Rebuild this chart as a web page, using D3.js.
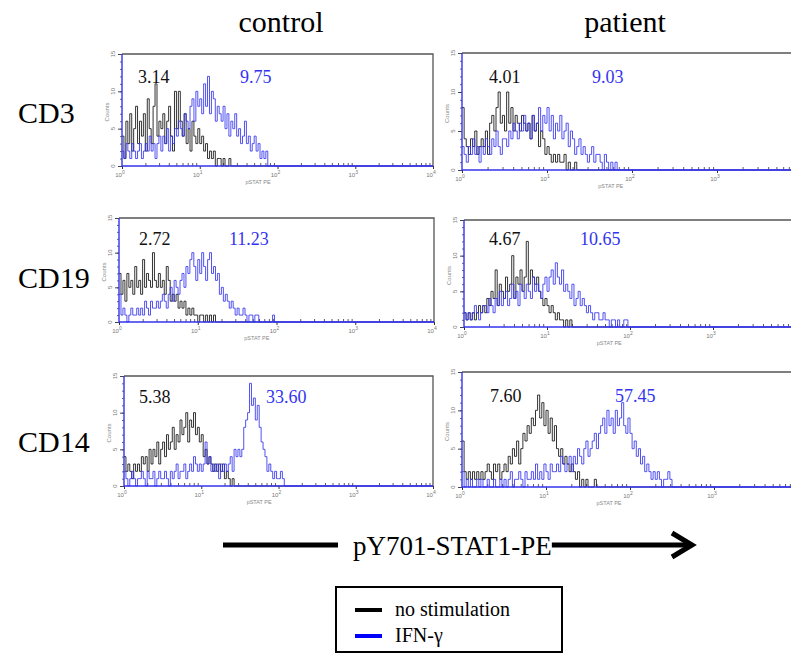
<!DOCTYPE html>
<html><head><meta charset="utf-8">
<script src="https://cdn.jsdelivr.net/npm/d3@7"></script>
<style>body{margin:0;background:#fff}svg{display:block}</style>
</head><body>
<svg id="c" width="791" height="654"></svg>
<script>
// ---- data (counts per channel, 40 channels per decade, starting at 10^0) ----
const columns = ["control", "patient"];
const rows = ["CD3", "CD19", "CD14"];
const seriesNames = ["no stimulation", "IFN-γ"];
const binsPerDecade = 40;

const cd3CtrlNo = [4,1,6,3,7,2,5,8,3,6, 4,7,2,9,5,3,8,11,4,6, 5,7,3,6,8,4,2,10,5,10, 6,4,7,3,5,2,6,4,3,5, 3,4,2,3,1,2,1,2,0,1, 1,0,1,0,0,1,0,0,0,0];
const cd3CtrlIfn = [2,1,3,2,1,3,2,1,2,3, 1,2,3,2,4,2,3,1,3,4, 2,4,3,5,2,4,3,5,4,6, 5,4,7,6,5,8,9,6,10,8, 9,7,11,8,12,7,10,9,6,8, 7,6,8,5,7,4,6,5,7,4, 5,3,4,6,3,4,2,3,4,2, 3,1,2,1,2,0];
const cd3PatNo = [8,4,3,2,4,3,5,2,3,4, 3,5,2,6,7,5,8,10,6,7, 5,10,6,8,5,7,6,5,7,6, 5,6,4,7,5,6,3,5,4,2, 3,2,1,2,1,2,1,1,2,0, 1,0,0,1,0,0,0,0,0,0];
const cd3PatIfn = [3,2,1,3,2,4,2,3,1,3, 2,4,3,2,4,3,5,3,2,4, 4,3,5,4,6,5,4,6,5,7, 5,6,4,7,5,6,8,5,7,6, 8,5,7,4,6,5,7,4,5,6, 3,5,4,2,3,4,2,3,2,1, 2,3,1,2,2,1,0,2,1,0, 1,0,1,0,0,0];
const cd19CtrlNo = [7,4,6,3,7,5,6,4,8,5, 6,4,9,5,7,6,5,10,6,5, 7,5,6,4,8,6,3,4,3,4, 2,3,2,3,1,2,1,2,1,1, 0,1,1,0,1,0,1,0,1,0, 0];
const cd19CtrlIfn = [4,1,2,1,0,1,2,1,1,2, 1,2,1,3,2,1,3,2,2,3, 2,3,4,3,2,4,5,3,6,5, 4,6,7,5,8,7,9,10,8,6, 9,7,10,8,6,9,10,7,8,6, 7,4,5,3,4,3,2,3,2,1, 2,1,1,2,1,0,1,1,0,1, 1,0,0,0,0,0,0,0,1,0];
const cd19PatNo = [2,1,2,1,2,1,2,3,2,3, 2,4,3,5,4,8,3,6,5,4, 7,5,6,10,4,7,6,8,5,7, 12,6,8,7,6,7,5,4,3,4, 3,2,3,2,1,2,1,1,0,1, 0,1,0,0,0,0];
const cd19PatIfn = [2,1,2,1,2,3,2,1,2,3, 3,2,4,3,2,4,3,5,3,4, 5,3,4,6,4,5,3,6,5,4, 6,5,4,7,5,6,5,4,6,7, 5,7,8,6,9,7,6,8,5,6, 5,4,6,3,4,5,3,4,3,2, 3,2,1,2,2,1,1,2,1,1, 0,1,1,0,1,0,0,1,1,0];
const cd14CtrlNo = [4,2,3,2,1,3,2,3,2,4, 3,4,2,5,3,5,4,6,3,5, 6,4,7,5,6,8,5,7,6,9, 7,8,10,6,9,8,10,7,8,6, 7,4,5,3,4,3,2,3,2,3, 2,3,1,2,1,0,1,0,0,0];
const cd14CtrlIfn = [2,1,0,1,2,1,0,1,1,2, 1,0,2,1,1,2,0,1,2,1, 1,2,1,0,2,1,2,3,1,2, 2,3,1,2,3,2,4,3,2,3, 2,3,6,3,4,2,3,2,3,1, 3,2,3,2,3,4,2,5,4,5, 4,5,8,9,10,14,11,12,9,11, 8,6,5,4,2,3,2,1,2,1, 1,2,1,0,0,0];
const cd14PatNo = [6,2,1,2,1,2,1,2,1,2, 1,2,3,2,1,3,2,3,1,2, 3,2,4,3,5,4,6,3,5,7, 6,8,7,9,8,10,12,9,11,8, 10,7,9,6,8,5,4,5,3,4, 3,2,3,2,1,2,0,1,0,1, 0,0,0,1,0,0];
const cd14PatIfn = [2,0,1,0,1,0,0,1,0,1, 0,0,1,0,0,1,0,0,1,0, 1,0,1,2,0,1,1,2,1,0, 2,1,1,2,1,3,1,2,1,3, 2,1,3,2,2,3,2,4,3,2, 3,4,2,4,3,5,4,3,5,6, 4,5,6,7,5,7,8,9,7,10, 8,9,7,10,8,9,11,8,7,9, 7,5,6,4,5,3,4,2,3,2, 1,2,1,2,1,0,1,1,2,1, 0];

const mfiNo  = ["3.14", "4.01", "2.72", "4.67", "5.38", "7.60"];
const mfiIfn = ["9.75", "9.03", "11.23", "10.65", "33.60", "57.45"];
const yTicks = [0, 5, 10, 15];
const xDecades = [0, 1, 2, 3, 4];

const panelSeries = [
  [cd3CtrlNo, cd3CtrlIfn], [cd3PatNo, cd3PatIfn],
  [cd19CtrlNo, cd19CtrlIfn], [cd19PatNo, cd19PatIfn],
  [cd14CtrlNo, cd14CtrlIfn], [cd14PatNo, cd14PatIfn]
];

// ---- layout ----
const W = 791;
const boxes = [
  {x0:122, x1:433, y0:54,  y1:166, lx:[138,240], ly:83},
  {x0:462, x1:802, y0:53,  y1:170, lx:[489,592], ly:83},
  {x0:119, x1:434, y0:218, y1:322, lx:[139,229], ly:245},
  {x0:464, x1:796, y0:220, y1:327, lx:[489,580], ly:245},
  {x0:124, x1:433, y0:376, y1:486, lx:[139,266], ly:403},
  {x0:462, x1:798, y0:372, y1:487, lx:[490,615], ly:402}
];
const BLACK = "#111", BLUE = "#3434f0", SERIF = "'Liberation Serif','Times New Roman',serif";

const svg = d3.select("#c");

// titles
const colX = [281, 625];
columns.forEach((t, i) => svg.append("text").attr("x", colX[i]).attr("y", 32)
  .attr("text-anchor", "middle").attr("font-family", SERIF).attr("font-size", 30).text(t));
const rowY = [123, 288, 452];
rows.forEach((t, i) => svg.append("text").attr("x", 18).attr("y", rowY[i])
  .attr("font-family", SERIF).attr("font-size", 30).text(t));

boxes.forEach((b, p) => {
  const g = svg.append("g");
  const x = d3.scaleLog().domain([1, 1e4]).range([b.x0, b.x1]);
  const y = d3.scaleLinear().domain([0, 15]).range([b.y1, b.y0]);
  const nTotal = 4 * binsPerDecade;

  // frame top/right
  g.append("path").attr("d", `M${b.x0},${b.y0}H${b.x1}V${b.y1}`)
    .attr("fill", "none").attr("stroke", "#555").attr("stroke-width", 1.3);

  // y minor/major ticks
  const yAx = d3.axisLeft(y).tickValues(d3.range(0, 16)).tickSize(2).tickFormat("");
  g.append("g").attr("transform", `translate(${b.x0},0)`).call(yAx)
    .call(s => s.select(".domain").remove())
    .call(s => s.selectAll("line").attr("stroke", "#444").attr("stroke-width", 0.8));
  const yAxM = d3.axisLeft(y).tickValues(yTicks).tickSize(4).tickFormat("");
  g.append("g").attr("transform", `translate(${b.x0},0)`).call(yAxM)
    .call(s => s.select(".domain").remove())
    .call(s => s.selectAll("line").attr("stroke", "#444"));
  yTicks.forEach(v => g.append("text")
    .attr("transform", `translate(${b.x0 - 7},${y(v)}) rotate(-90)`)
    .attr("text-anchor", "middle").attr("font-family", "Arial, sans-serif")
    .attr("font-size", 6).attr("fill", "#777").text(v));
  g.append("text").attr("transform", `translate(${b.x0 - 13},${(b.y0 + b.y1) / 2 + 2}) rotate(-90)`)
    .attr("text-anchor", "middle").attr("font-family", "Arial, sans-serif")
    .attr("font-size", 6).attr("fill", "#888").text("Counts");

  // x minor/major ticks (pointing up inside)
  const minor = [];
  for (let d = 0; d < 4; d++) for (let k = 2; k <= 9; k++) minor.push(k * Math.pow(10, d));
  const xAx = d3.axisTop(x).tickValues(minor).tickSize(3).tickFormat("");
  g.append("g").attr("transform", `translate(0,${b.y1})`).call(xAx)
    .call(s => s.select(".domain").remove())
    .call(s => s.selectAll("line").attr("stroke", "#333").attr("stroke-width", 0.8));
  const xAxB = d3.axisBottom(x).tickValues(xDecades.map(d => Math.pow(10, d))).tickSize(3).tickFormat("");
  g.append("g").attr("transform", `translate(0,${b.y1})`).call(xAxB)
    .call(s => s.select(".domain").remove())
    .call(s => s.selectAll("line").attr("stroke", "#333"));
  xDecades.filter(d => x(Math.pow(10, d)) < W - 8).forEach(d => {
    const t = g.append("text").attr("x", x(Math.pow(10, d)) - 2).attr("y", b.y1 + 11)
      .attr("text-anchor", "middle").attr("font-family", "Arial, sans-serif")
      .attr("font-size", 6).attr("fill", "#777");
    t.append("tspan").text("10");
    t.append("tspan").attr("dy", -3).attr("font-size", 5).text(d);
  });
  g.append("text").attr("x", x(Math.pow(10, 1.75))).attr("y", b.y1 + 18)
    .attr("text-anchor", "middle").attr("font-family", "Arial, sans-serif")
    .attr("font-size", 5.5).attr("fill", "#888").text("pSTAT PE");

  // histograms
  const colors = [BLACK, BLUE];
  panelSeries[p].forEach((arr, si) => {
    const pts = d3.range(nTotal + 1).map(i => [Math.pow(10, i / binsPerDecade), i < arr.length ? arr[i] : 0]);
    const line = d3.line().x(d => x(d[0])).y(d => y(d[1])).curve(d3.curveStepAfter);
    g.append("path").datum(pts).attr("d", line).attr("fill", "none")
      .attr("stroke", colors[si]).attr("stroke-width", 1).attr("stroke-opacity", 0.85);
  });

  // left & bottom frame in blue
  g.append("path").attr("d", `M${b.x0},${b.y0}V${b.y1}H${b.x1}`)
    .attr("fill", "none").attr("stroke", BLUE).attr("stroke-width", 1.4);

  // MFI labels
  g.append("text").attr("x", b.lx[0]).attr("y", b.ly).attr("font-family", SERIF)
    .attr("font-size", 18).attr("fill", BLACK).text(mfiNo[p]);
  g.append("text").attr("x", b.lx[1]).attr("y", b.ly).attr("font-family", SERIF)
    .attr("font-size", 18).attr("fill", BLUE).text(mfiIfn[p]);
});

// axis arrow
svg.append("line").attr("x1", 223).attr("x2", 338).attr("y1", 545).attr("y2", 545)
  .attr("stroke", "#000").attr("stroke-width", 5);
const at = svg.append("text").attr("x", 353).attr("y", 555).attr("font-family", SERIF)
  .attr("font-size", 27).text("pY701-STAT1-PE");
const tw = at.node().getComputedTextLength();
svg.append("line").attr("x1", 353 + tw).attr("x2", 690).attr("y1", 545).attr("y2", 545)
  .attr("stroke", "#000").attr("stroke-width", 5);
svg.append("path").attr("d", "M672,533L692,545L672,557").attr("fill", "none")
  .attr("stroke", "#000").attr("stroke-width", 5).attr("stroke-linejoin", "miter");

// legend
svg.append("rect").attr("x", 336).attr("y", 587).attr("width", 226).attr("height", 65)
  .attr("fill", "none").attr("stroke", "#000").attr("stroke-width", 2);
const legColors = ["#000", "#0000ff"];
seriesNames.forEach((n, i) => {
  const yy = 610 + i * 26;
  svg.append("line").attr("x1", 355).attr("x2", 382).attr("y1", yy).attr("y2", yy)
    .attr("stroke", legColors[i]).attr("stroke-width", 4);
  svg.append("text").attr("x", 395).attr("y", yy + 6).attr("font-family", SERIF)
    .attr("font-size", 20).text(n);
});
</script>
</body></html>
